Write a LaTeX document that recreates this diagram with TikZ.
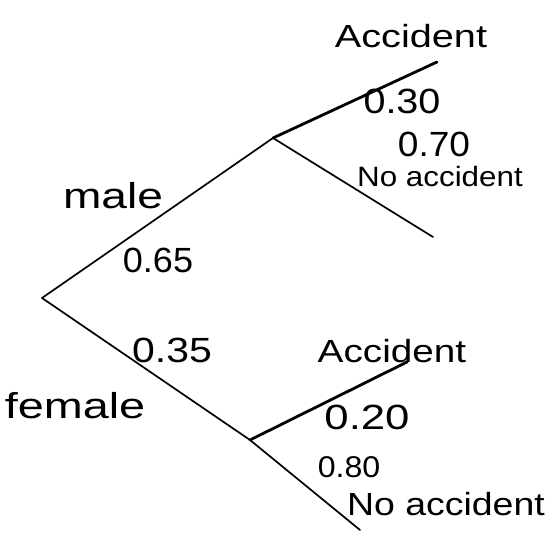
\documentclass[tikz,border=0pt]{standalone}
\usepackage{fontspec}
\setmainfont{Liberation Sans}
\tikzset{
  branch/.style={line width=1.7pt, line cap=round},
  thick branch/.style={line width=2.8pt, line cap=round},
  lbl/.style={inner sep=0pt, anchor=center},
}
\newcommand{\hw}[3]{\scalebox{#1}[1]{\fontsize{#2}{#2}\selectfont #3}}
\begin{document}
\begin{tikzpicture}[x=1pt, y=-1pt]
\useasboundingbox (0,0) rectangle (547,537);
% points of the tree
\coordinate (root) at (42,298);
\coordinate (m) at (273,138);
\coordinate (f) at (250,440);
\coordinate (ma) at (437,62);
\coordinate (mn) at (433,237);
\coordinate (fa) at (407,362);
\coordinate (fn) at (360,530);
% branches
\draw[branch] (root) -- (m);
\draw[branch] (root) -- (f);
\draw[thick branch] (m) -- (ma);
\draw[branch] (m) -- (mn);
\draw[thick branch] (f) -- (fa);
\draw[branch] (f) -- (fn);
% labels
\node[lbl] (tacc) at (411,36) {\hw{1.24}{32}{Accident}};
\node[lbl] (t030) at (402,101) {\hw{1.13}{35}{0.30}};
\node[lbl] (t070) at (434,144) {\hw{1.06}{35}{0.70}};
\node[lbl] (tnoacc) at (440,176) {\hw{1.12}{28}{No accident}};
\node[lbl] (tmale) at (113,196) {\hw{1.28}{36}{male}};
\node[lbl] (t065) at (158,260) {\hw{1.03}{35}{0.65}};
\node[lbl] (t035) at (172,350) {\hw{1.17}{35}{0.35}};
\node[lbl] (tfemale) at (75,406) {\hw{1.3}{36}{female}};
\node[lbl] (facc) at (392,351) {\hw{1.21}{32}{Accident}};
\node[lbl] (t020) at (367,417) {\hw{1.25}{35}{0.20}};
\node[lbl] (t080) at (349,467) {\hw{1.07}{30}{0.80}};
\node[lbl] (fnoacc) at (446,504) {\hw{1.17}{32}{No accident}};
\end{tikzpicture}
\end{document}
